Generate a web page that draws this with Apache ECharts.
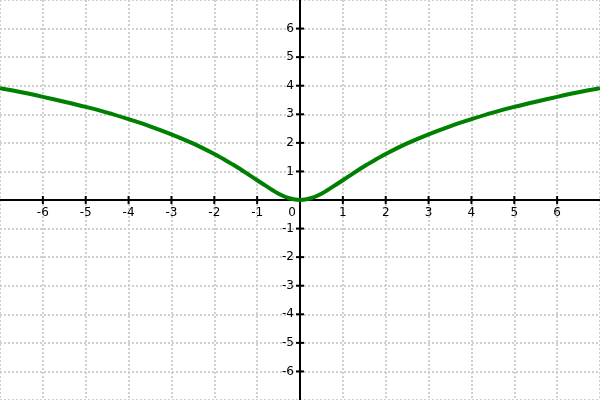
<!DOCTYPE html>
<html><head><meta charset="utf-8">
<script src="https://cdn.jsdelivr.net/npm/echarts@6/dist/echarts.min.js"></script>
<style>html,body{margin:0;padding:0;background:#fff}#c{width:600px;height:400px}</style>
</head><body><div id="c"></div>
<script>
var xs = [-7,-6.5,-6,-5.5,-5,-4.5,-4,-3.5,-3,-2.5,-2,-1.75,-1.5,-1.25,-1,-0.75,-0.5,-0.25,0,0.25,0.5,0.75,1,1.25,1.5,1.75,2,2.5,3,3.5,4,4.5,5,5.5,6,6.5,7];
var ys = [3.91,3.77,3.61,3.44,3.26,3.06,2.83,2.58,2.30,1.98,1.61,1.40,1.18,0.94,0.69,0.45,0.22,0.06,0,0.06,0.22,0.45,0.69,0.94,1.18,1.40,1.61,1.98,2.30,2.58,2.83,3.06,3.26,3.44,3.61,3.77,3.91];
var xTicks = [-6,-5,-4,-3,-2,-1,1,2,3,4,5,6];
var yTicks = [-6,-5,-4,-3,-2,-1,1,2,3,4,5,6];
var originLabel = '0';

var data = xs.map(function(x,i){return [x, ys[i]];});
var font = '12px "DejaVu Sans"';
var lineStyle = {color:'#000', width:2};
var split = {show:true, lineStyle:{color:'#d0d0d0', width:2, type:[2,2]}};

// [x, y, kind] kind 0 = x-axis tick, 1 = y-axis tick, 2 = origin label
var tickData = [];
xTicks.forEach(function(v){ tickData.push([v, 0, 0]); });
yTicks.forEach(function(v){ tickData.push([0, v, 1]); });
tickData.push([0, 0, 2]);

var chart = echarts.init(document.getElementById('c'));
chart.setOption({
  animation:false,
  grid:{left:0,right:0,top:0,bottom:0, outerBoundsMode:'none'},
  xAxis:{type:'value', min:-7, max:7, interval:1,
     axisLine:{onZero:true, lineStyle:lineStyle},
     axisTick:{show:false}, axisLabel:{show:false},
     splitLine:split},
  yAxis:{type:'value', min:-7, max:7, interval:1,
     axisLine:{onZero:true, lineStyle:lineStyle},
     axisTick:{show:false}, axisLabel:{show:false},
     splitLine:split},
  series:[
    {type:'line', data:data, smooth:0.3, showSymbol:false, symbol:'none',
     lineStyle:{color:'#008000', width:4}, z:5},
    {type:'custom', data:tickData, z:4, silent:true, clip:false,
     renderItem:function(params, api){
       var vx = api.value(0), vy = api.value(1), kind = api.value(2);
       var p = api.coord([vx, vy]);
       if (kind === 2) {
         return {type:'text', style:{text:originLabel, x:p[0]-8, y:p[1]+7, font:font, fill:'#000',
           align:'center', verticalAlign:'top'}};
       }
       if (kind === 0) {
         return {type:'group', children:[
           {type:'line', shape:{x1:p[0], y1:p[1]-4, x2:p[0], y2:p[1]+4}, style:{stroke:'#000', lineWidth:2}},
           {type:'text', style:{text:String(vx), x:p[0], y:p[1]+7, font:font, fill:'#000',
             align:'center', verticalAlign:'top'}}
         ]};
       }
       return {type:'group', children:[
         {type:'line', shape:{x1:p[0]-4, y1:p[1], x2:p[0]+4, y2:p[1]}, style:{stroke:'#000', lineWidth:2}},
         {type:'text', style:{text:String(vy), x:p[0]-6, y:p[1], font:font, fill:'#000',
           align:'right', verticalAlign:'middle'}}
       ]};
     }}
  ]
});
</script></body></html>
